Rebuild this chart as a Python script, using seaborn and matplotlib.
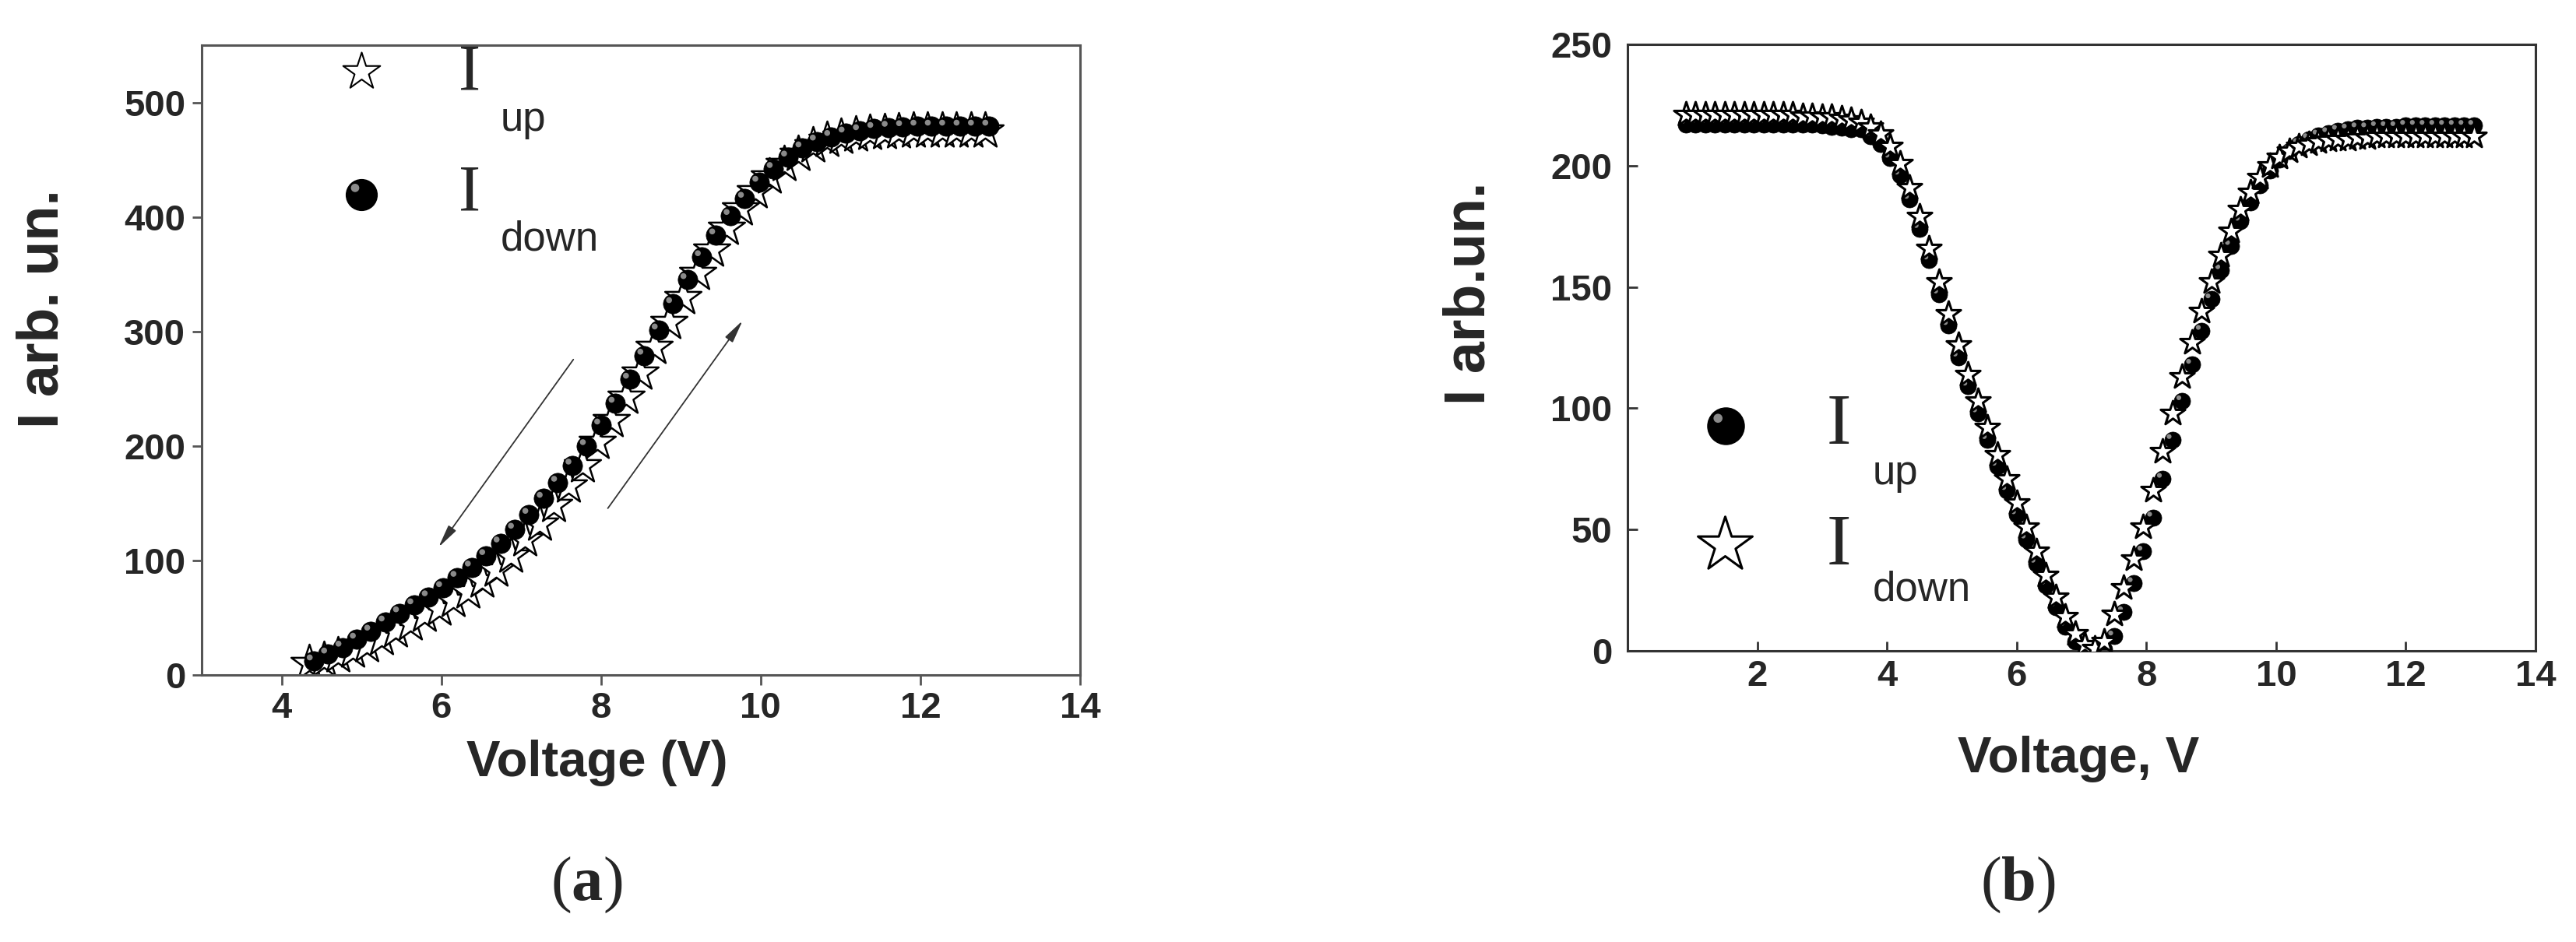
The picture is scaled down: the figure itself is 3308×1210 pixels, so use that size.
import numpy as np
import pandas as pd
import matplotlib
matplotlib.use("Agg")
import matplotlib.pyplot as plt
import seaborn as sns
from matplotlib.transforms import offset_copy

# ---------------- data: panel (a) ----------------
a_up_v = [4.35, 4.53, 4.71, 4.89, 5.07, 5.25, 5.43, 5.61, 5.79, 5.97, 6.15, 6.33,
          6.51, 6.69, 6.87, 7.05, 7.23, 7.41, 7.59, 7.77, 7.95, 8.13, 8.31, 8.49,
          8.67, 8.85, 9.03, 9.21, 9.39, 9.57, 9.75, 9.93, 10.11, 10.29, 10.47, 10.65,
          10.83, 11.01, 11.19, 11.37, 11.55, 11.73, 11.91, 12.09, 12.27, 12.45, 12.63, 12.81]
a_up_i = [10, 13, 17, 21, 26, 32, 39, 45, 52, 58, 65, 73,
          82, 92, 104, 118, 132, 148, 165, 183, 203, 222, 243, 264,
          286, 308, 330, 351, 371, 390, 407, 422, 435, 446, 455, 462,
          467, 470, 472, 473, 474, 474.5, 475, 475, 475, 475, 475, 475]
a_down_v = [4.40, 4.58, 4.76, 4.94, 5.12, 5.30, 5.48, 5.66, 5.84, 6.02, 6.20, 6.38,
            6.56, 6.74, 6.92, 7.10, 7.28, 7.46, 7.64, 7.82, 8.00, 8.18, 8.36, 8.54,
            8.72, 8.90, 9.08, 9.26, 9.44, 9.62, 9.80, 9.98, 10.16, 10.34, 10.52, 10.70,
            10.88, 11.06, 11.24, 11.42, 11.60, 11.78, 11.96, 12.14, 12.32, 12.50, 12.68, 12.86]
a_down_i = [12, 18, 24, 31, 38, 46, 54, 61, 68, 76, 85, 94,
            104, 115, 127, 140, 154, 168, 183, 200, 218, 237, 258, 279,
            301, 324, 345, 365, 384, 401, 416, 430, 442, 452, 460, 466,
            470, 473, 475, 477, 478, 478.5, 479, 479, 479, 479, 479, 479]

# ---------------- data: panel (b) ----------------
b_v = [0.90, 1.05, 1.20, 1.35, 1.50, 1.65, 1.80, 1.95, 2.10, 2.25, 2.40, 2.55,
       2.70, 2.85, 3.00, 3.15, 3.30, 3.45, 3.60, 3.75, 3.90, 4.05, 4.20, 4.35,
       4.50, 4.65, 4.80, 4.95, 5.10, 5.25, 5.40, 5.55, 5.70, 5.85, 6.00, 6.15,
       6.30, 6.45, 6.60, 6.75, 6.90, 7.05, 7.20, 7.35, 7.50, 7.65, 7.80, 7.95,
       8.10, 8.25, 8.40, 8.55, 8.70, 8.85, 9.00, 9.15, 9.30, 9.45, 9.60, 9.75,
       9.90, 10.05, 10.20, 10.35, 10.50, 10.65, 10.80, 10.95, 11.10, 11.25, 11.40, 11.55,
       11.70, 11.85, 12.00, 12.15, 12.30, 12.45, 12.60, 12.75, 12.90, 13.05]
b_down_i = [221, 221, 221, 221, 221, 221, 221, 221, 221, 221, 221, 221,
            220.5, 220.5, 220, 220, 219.5, 219, 218, 216, 213, 208, 201, 191,
            179, 166, 152, 139, 126, 114, 103, 92, 81, 71, 61, 51,
            41, 31, 22, 14, 7, 2.5, 1, 4, 15, 26, 38, 51,
            66, 82, 98, 113, 127, 140, 152, 163, 173, 182, 189, 195,
            200, 203.5, 206, 208, 209, 210, 210.5, 211, 211, 211.5, 211.5, 212,
            212, 212, 212, 212, 212, 212, 212, 212, 212, 212]
b_up_i = [217, 217, 217, 217, 217, 217, 217, 217, 217, 217, 217, 217,
          217, 217, 216.5, 216, 215.5, 215, 215, 212, 209, 203, 196, 186,
          174, 161, 147, 134, 121, 109, 98, 87, 76, 66, 56, 46,
          36, 27, 18, 10, 4, 1.5, 0.5, 0.5, 6, 16, 28, 41,
          55, 71, 87, 103, 118, 132, 145, 157, 167, 177, 185, 192,
          198, 202.5, 206, 209, 211, 212.5, 213.5, 214.5, 215, 215.5, 215.5, 216,
          216, 216, 216.5, 216.5, 216.5, 216.5, 216.5, 216.5, 216.5, 216.5]

a_xticks = [4, 6, 8, 10, 12, 14]
a_yticks = [0, 100, 200, 300, 400, 500]
b_xticks = [2, 4, 6, 8, 10, 12, 14]
b_yticks = [0, 50, 100, 150, 200, 250]

dfa_up = pd.DataFrame({"V": a_up_v, "I": a_up_i})
dfa_down = pd.DataFrame({"V": a_down_v, "I": a_down_i})
dfb_up = pd.DataFrame({"V": b_v, "I": b_up_i})
dfb_down = pd.DataFrame({"V": b_v, "I": b_down_i})

# ---------------- style ----------------
sns.set_style("ticks")
plt.rcParams["font.family"] = ["Liberation Sans", "DejaVu Sans"]
plt.rcParams["mathtext.fontset"] = "custom"
plt.rcParams["mathtext.rm"] = "Liberation Serif"
plt.rcParams["mathtext.bf"] = "Liberation Serif:bold"

fig = plt.figure(figsize=(33.08, 12.10), dpi=100)
axL = fig.add_axes([0.0783, 0.2835, 0.3410, 0.6686])
axR = fig.add_axes([0.6318, 0.3091, 0.3525, 0.6438])

# ---------------- panel (a) ----------------
sns.scatterplot(data=dfa_up, x="V", y="I", ax=axL, marker="*", s=1250,
                color="white", edgecolor="black", linewidth=1.8, zorder=2, legend=False)
sns.scatterplot(data=dfa_down, x="V", y="I", ax=axL, marker="o", s=330,
                color="black", edgecolor="black", linewidth=0.5, zorder=3, legend=False)
hlL = offset_copy(axL.transData, fig=fig, x=-3.5, y=3.5, units="points")
sns.scatterplot(data=dfa_down, x="V", y="I", ax=axL, marker="o", s=30,
                color="#8a8a8a", edgecolor="none", linewidth=0, zorder=3.1,
                legend=False, transform=hlL)

axL.annotate("", xy=(5.95, 110), xytext=(7.67, 277),
             arrowprops=dict(arrowstyle="-|>,head_length=0.9,head_width=0.18",
                             lw=1.3, color="#333333", mutation_scale=20))
axL.annotate("", xy=(9.79, 311), xytext=(8.07, 144),
             arrowprops=dict(arrowstyle="-|>,head_length=0.9,head_width=0.18",
                             lw=1.3, color="#333333", mutation_scale=20))

axL.set_xlim(3, 14)
axL.set_ylim(0, 550)
axL.set_xticks(a_xticks)
axL.set_yticks(a_yticks)
axL.tick_params(direction="out", length=9, width=2, color="#555555",
                labelsize=34, pad=6)
for sp in axL.spines.values():
    sp.set_visible(True)
    sp.set_color("#555555")
    sp.set_linewidth(2.2)
axL.set_xlabel("Voltage (V)", fontsize=47, fontweight="bold", va="center", ha="center")
axL.set_ylabel("I arb. un.", fontsize=53, fontweight="bold", va="center", ha="center")
axL.xaxis.set_label_coords(0.450, -0.140)
axL.yaxis.set_label_coords(-0.181, 0.581)

# legend (a)
axL.scatter([0.182], [0.958], transform=axL.transAxes, marker="*", s=1300,
            facecolor="white", edgecolor="black", linewidth=1.5, clip_on=False, zorder=5)
axL.scatter([0.182], [0.763], transform=axL.transAxes, marker="o", s=820,
            facecolor="black", edgecolor="black", clip_on=False, zorder=5)
axL.scatter([0.182], [0.763], transform=offset_copy(axL.transAxes, fig=fig, x=-6, y=6, units="points"),
            marker="o", s=60, facecolor="#8a8a8a", edgecolor="none", clip_on=False, zorder=5.1)
axL.text(0.305, 0.954, "I", transform=axL.transAxes, fontsize=61, family="Liberation Serif",
         ha="center", va="center")
axL.text(0.340, 0.881, "up", transform=axL.transAxes, fontsize=38, ha="left", va="center")
axL.text(0.305, 0.763, "I", transform=axL.transAxes, fontsize=61, family="Liberation Serif",
         ha="center", va="center")
axL.text(0.340, 0.692, "down", transform=axL.transAxes, fontsize=38, ha="left", va="center")

# ---------------- panel (b) ----------------
sns.scatterplot(data=dfb_up, x="V", y="I", ax=axR, marker="o", s=230,
                color="black", edgecolor="black", linewidth=0.5, zorder=2, legend=False)
hlR = offset_copy(axR.transData, fig=fig, x=-3, y=3, units="points")
sns.scatterplot(data=dfb_up, x="V", y="I", ax=axR, marker="o", s=20,
                color="#8a8a8a", edgecolor="none", linewidth=0, zorder=2.1,
                legend=False, transform=hlR)
sns.scatterplot(data=dfb_down, x="V", y="I", ax=axR, marker="*", s=560,
                color="white", edgecolor="black", linewidth=2.2, zorder=3, legend=False)

axR.set_xlim(0, 14)
axR.set_ylim(0, 250)
axR.set_xticks(b_xticks)
axR.set_yticks(b_yticks)
axR.tick_params(direction="in", length=9, width=2, color="#333333",
                labelsize=34)
axR.tick_params(axis="y", pad=14)
axR.tick_params(axis="x", pad=8)
for sp in axR.spines.values():
    sp.set_visible(True)
    sp.set_color("#333333")
    sp.set_linewidth(2.2)
axR.set_xlabel("Voltage, V", fontsize=47, fontweight="bold", va="center", ha="center")
axR.set_ylabel("I arb.un.", fontsize=53, fontweight="bold", va="center", ha="center")
axR.xaxis.set_label_coords(0.497, -0.178)
axR.yaxis.set_label_coords(-0.174, 0.590)

# legend (b)
axR.scatter([0.108], [0.371], transform=axR.transAxes, marker="o", s=1150,
            facecolor="black", edgecolor="black", clip_on=False, zorder=5)
axR.scatter([0.108], [0.371], transform=offset_copy(axR.transAxes, fig=fig, x=-7, y=7, units="points"),
            marker="o", s=70, facecolor="#8a8a8a", edgecolor="none", clip_on=False, zorder=5.1)
axR.scatter([0.107], [0.175], transform=axR.transAxes, marker="*", s=2800,
            facecolor="white", edgecolor="black", linewidth=2.2, clip_on=False, zorder=5)
axR.text(0.233, 0.370, "I", transform=axR.transAxes, fontsize=68, family="Liberation Serif",
         ha="center", va="center")
axR.text(0.270, 0.293, "up", transform=axR.transAxes, fontsize=38, ha="left", va="center")
axR.text(0.233, 0.171, "I", transform=axR.transAxes, fontsize=68, family="Liberation Serif",
         ha="center", va="center")
axR.text(0.270, 0.101, "down", transform=axR.transAxes, fontsize=38, ha="left", va="center")

for ax in (axL, axR):
    for lab in ax.get_xticklabels() + ax.get_yticklabels():
        lab.set_fontweight("bold")

# panel captions
fig.text(0.2276, 0.0603, r"$(\mathbf{a})$", fontsize=58, ha="center", va="center")
fig.text(0.7835, 0.0603, r"$(\mathbf{b})$", fontsize=58, ha="center", va="center")

fig.savefig("out.png", dpi=100, facecolor="white")
